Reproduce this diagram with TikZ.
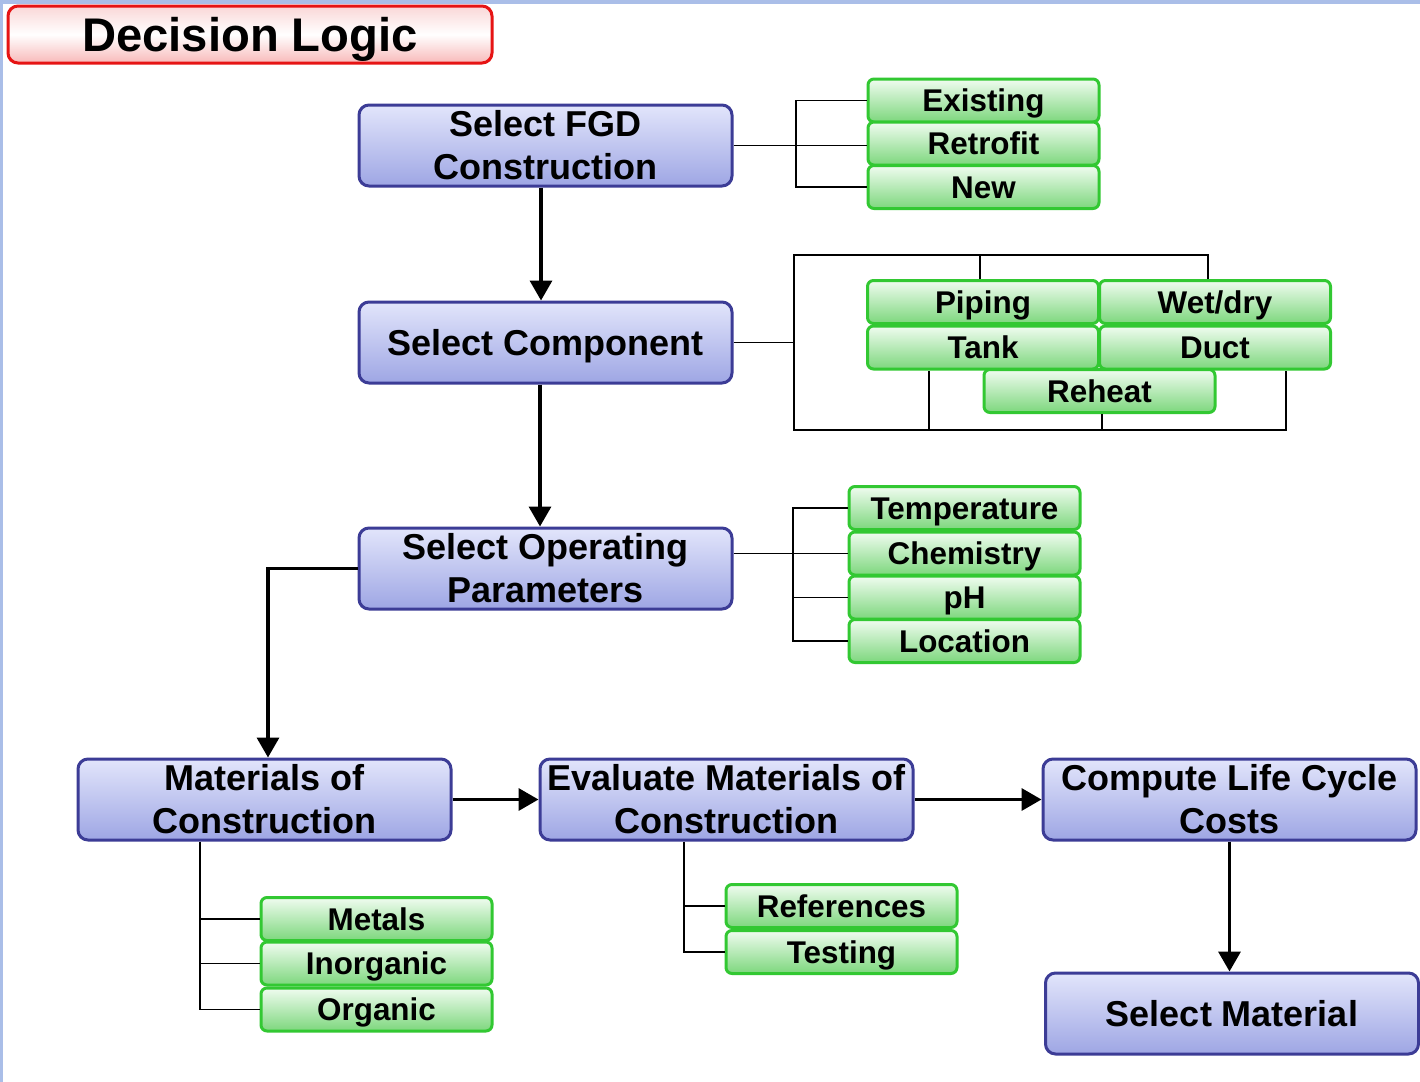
\documentclass[tikz,border=0pt]{standalone}
\usepackage{fontspec}
\setmainfont{Liberation Sans}
\usetikzlibrary{arrows.meta,calc}

\definecolor{bandblue}{RGB}{170,190,232}
\definecolor{titleedge}{RGB}{230,20,20}
\definecolor{titletop}{RGB}{250,215,215}
\definecolor{titlebot}{RGB}{248,185,185}
\definecolor{blueedge}{RGB}{60,60,150}
\definecolor{bluetop}{RGB}{226,229,251}
\definecolor{bluebot}{RGB}{158,166,228}
\definecolor{greenedge}{RGB}{50,200,50}
\definecolor{greentop}{RGB}{240,252,240}
\definecolor{greenbot}{RGB}{125,215,125}

\tikzset{
  titlebox/.style={draw=titleedge, line width=1.5pt, rounded corners=5pt,
    top color=titletop, bottom color=titlebot, middle color=white,
    minimum width=242pt, minimum height=28.5pt, inner sep=0pt,
    text height=17pt, text depth=0pt,
    font=\fontsize{23.6}{28}\selectfont\bfseries},
  stepbox/.style={draw=blueedge, line width=1.5pt, rounded corners=5pt,
    top color=bluetop, bottom color=bluebot,
    minimum width=186.5pt, minimum height=40.5pt, inner sep=0pt, align=center,
    font=\fontsize{18}{21.5}\selectfont\bfseries},
  oneline/.style={text height=13pt, text depth=0pt},
  optbox/.style={draw=greenedge, line width=1.5pt, rounded corners=3pt,
    top color=greentop, bottom color=greenbot,
    minimum width=115.5pt, minimum height=21.5pt, inner sep=0pt,
    text height=11.3pt, text depth=0pt,
    font=\fontsize{15.7}{18}\selectfont\bfseries},
  link/.style={draw=black, line width=0.8pt},
  flow/.style={draw=black, line width=1.75pt, -{Triangle[length=10pt,width=11pt]}}
}

\begin{document}
\begin{tikzpicture}[x=0.5pt,y=-0.5pt]
  % page and frame bands
  \useasboundingbox (0,0) rectangle (1420,1082);
  \fill[white] (0,0) rectangle (1420,1082);
  \fill[bandblue] (0,0) rectangle (1420,4);
  \fill[bandblue] (0,0) rectangle (3,1082);

  % heading
  \node[titlebox] (title) at (250,34.5) {Decision Logic};

  % main decision steps
  \node[stepbox] (b1) at (545.5,145.5) {Select FGD\\Construction};
  \node[stepbox,oneline] (b2) at (545.5,342.5) {Select Component};
  \node[stepbox] (b3) at (545.5,568.5) {Select Operating\\Parameters};
  \node[stepbox] (b4) at (264.5,799.5) {Materials of\\Construction};
  \node[stepbox] (b5) at (726.5,799.5) {Evaluate Materials of\\Construction};
  \node[stepbox] (b6) at (1229.5,799.5) {Compute Life Cycle\\Costs};
  \node[stepbox,oneline] (b7) at (1232,1013.5) {Select Material};

  % options: construction
  \node[optbox] (existing) at (983.5,100.5) {Existing};
  \node[optbox] (retrofit) at (983.5,143.5) {Retrofit};
  \node[optbox] (new)      at (983.5,187)   {New};

  % options: component
  \node[optbox] (piping) at (983,302)    {Piping};
  \node[optbox] (wetdry) at (1215,302)   {Wet/dry};
  \node[optbox] (tank)   at (983,347.5)  {Tank};
  \node[optbox] (duct)   at (1215,347.5) {Duct};
  \node[optbox] (reheat) at (1099.5,391) {Reheat};

  % options: operating parameters
  \node[optbox] (temperature) at (964.5,508)   {Temperature};
  \node[optbox] (chemistry)   at (964.5,553.5) {Chemistry};
  \node[optbox] (ph)          at (964.5,597.5) {pH};
  \node[optbox] (location)    at (964.5,641)   {Location};

  % options: materials
  \node[optbox] (metals)    at (376.5,919)    {Metals};
  \node[optbox] (inorganic) at (376.5,963.5)  {Inorganic};
  \node[optbox] (organic)   at (376.5,1009.5) {Organic};

  % options: evaluation
  \node[optbox] (references) at (841.5,906) {References};
  \node[optbox] (testing)    at (841.5,952) {Testing};

  % construction bracket
  \coordinate (fgdbar) at (796,146);
  \draw[link] (b1.east) -- (b1.east -| retrofit.west);
  \draw[link] (existing.west) -| (fgdbar) |- (new.west);

  % component bracket
  \coordinate (cmptop) at (794,255);
  \coordinate (cmpbot) at (794,430);
  \coordinate (pipdrop) at (980,255);
  \coordinate (wetdrop) at (1208,255);
  \coordinate (tankdrop) at (929,430);
  \coordinate (reheatdrop) at (1102,430);
  \coordinate (ductdrop) at (1286,430);
  \draw[link] (b2.east) -- (b2.east -| cmptop);
  \draw[link] (wetdrop |- wetdry.north) -- (wetdrop) -- (cmptop) -- (cmpbot)
              -- (ductdrop) -- (ductdrop |- duct.south);
  \draw[link] (pipdrop) -- (pipdrop |- piping.north);
  \draw[link] (tankdrop) -- (tankdrop |- tank.south);
  \draw[link] (reheatdrop) -- (reheatdrop |- reheat.south);

  % operating parameter bracket
  \coordinate (opbar) at (793,557);
  \draw[link] (b3.east |- chemistry.west) -- (chemistry.west);
  \draw[link] (temperature.west) -| (opbar) |- (location.west);
  \draw[link] (ph.west) -- (ph.west -| opbar);

  % materials bracket
  \coordinate (matbar) at (200,900);
  \draw[link] (b4.south -| matbar) |- (organic.west);
  \draw[link] (metals.west) -- (metals.west -| matbar);
  \draw[link] (inorganic.west) -- (inorganic.west -| matbar);

  % evaluation bracket
  \coordinate (evbar) at (684,900);
  \draw[link] (b5.south -| evbar) |- (testing.west);
  \draw[link] (references.west) -- (references.west -| evbar);

  % decision flow
  \coordinate (fgddown) at (541,0);
  \coordinate (cmpdown) at (540,0);
  \coordinate (matdown) at (268,0);
  \draw[flow] (b1.south -| fgddown) -- (b2.north -| fgddown);
  \draw[flow] (b2.south -| cmpdown) -- (b3.north -| cmpdown);
  \draw[flow] (b3.west) -| (b4.north -| matdown);
  \draw[flow] (b4) -- (b5);
  \draw[flow] (b5) -- (b6);
  \draw[flow] (b6.south) -- (b6.south |- b7.north);
\end{tikzpicture}
\end{document}
